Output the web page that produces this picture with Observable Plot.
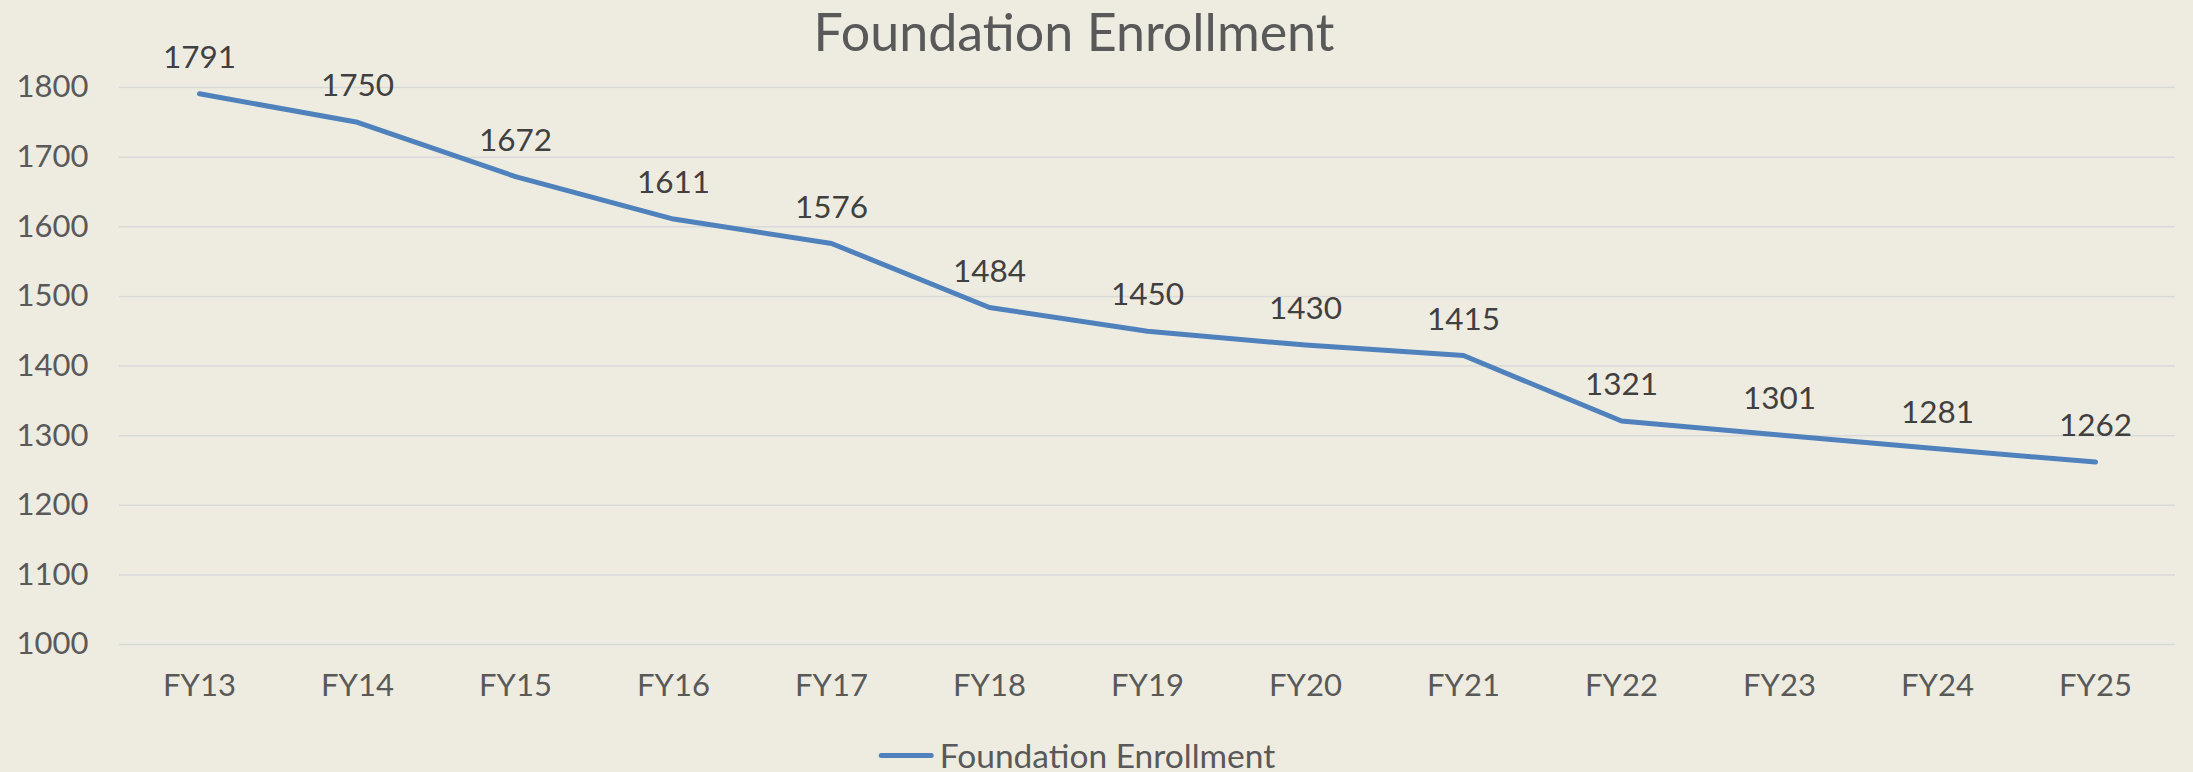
<!DOCTYPE html>
<html>
<head>
<meta charset="utf-8">
<script src="https://cdn.jsdelivr.net/npm/d3@7"></script>
<script src="https://cdn.jsdelivr.net/npm/@observablehq/plot@0.6"></script>
<style>
  html, body { margin: 0; padding: 0; background: #EEECE1; }
  body { width: 2193px; height: 772px; overflow: hidden; position: relative; font-family: Lato, "Open Sans", sans-serif; }
  #title { position: absolute; left: 1074px; top: 0; transform: translateX(-50%); white-space: nowrap; height: 62px; line-height: 62px; font-size: 52px; color: #595959; z-index: 2; }
  #chart { position: absolute; left: 0; top: 0; }
  #legend { position: absolute; left: 1077px; top: 730px; transform: translateX(-50%); white-space: nowrap; height: 50px; display: flex; align-items: center; font-size: 33.5px; color: #595959; }
  #legend .sw { display: inline-block; width: 55px; height: 5px; border-radius: 3px; background: #4F81BD; margin-right: 6px; }
</style>
</head>
<body>
<div id="title">Foundation Enrollment</div>
<div id="chart"></div>
<div id="legend"><span class="sw"></span><span>Foundation Enrollment</span></div>
<script>
const years = ["FY13","FY14","FY15","FY16","FY17","FY18","FY19","FY20","FY21","FY22","FY23","FY24","FY25"];
const enrollment = [1791,1750,1672,1611,1576,1484,1450,1430,1415,1321,1301,1281,1262];
const yTicks = [1000,1100,1200,1300,1400,1500,1600,1700,1800];
const seriesName = "Foundation Enrollment";

const data = years.map((fy, i) => ({fy, value: enrollment[i]}));

const chart = Plot.plot({
  width: 2193,
  height: 728,
  marginTop: 87,
  marginBottom: 84,
  marginLeft: 119,
  marginRight: 18,
  style: {background: "transparent", fontFamily: "Lato, 'Open Sans', sans-serif", overflow: "visible"},
  x: {type: "point", domain: years, padding: 0.5, label: null},
  y: {domain: [1000, 1800], label: null},
  marks: [
    Plot.ruleY(yTicks, {stroke: "#D9D9D9", strokeWidth: 1.5}),
    Plot.axisY({ticks: yTicks, tickFormat: d => String(d), tickSize: 0, tickPadding: 31, fontSize: 31, color: "#595959", label: null}),
    Plot.axisX({tickSize: 0, tickPadding: 29, fontSize: 31, color: "#595959", label: null}),
    Plot.line(data, {x: "fy", y: "value", stroke: "#4F81BD", strokeWidth: 5, strokeLinecap: "round", strokeLinejoin: "round"}),
    Plot.text(data, {x: "fy", y: "value", text: d => String(d.value), dy: -36, fontSize: 31.5, fill: "#404040"})
  ]
});
document.getElementById("chart").appendChild(chart);
</script>
</body>
</html>
